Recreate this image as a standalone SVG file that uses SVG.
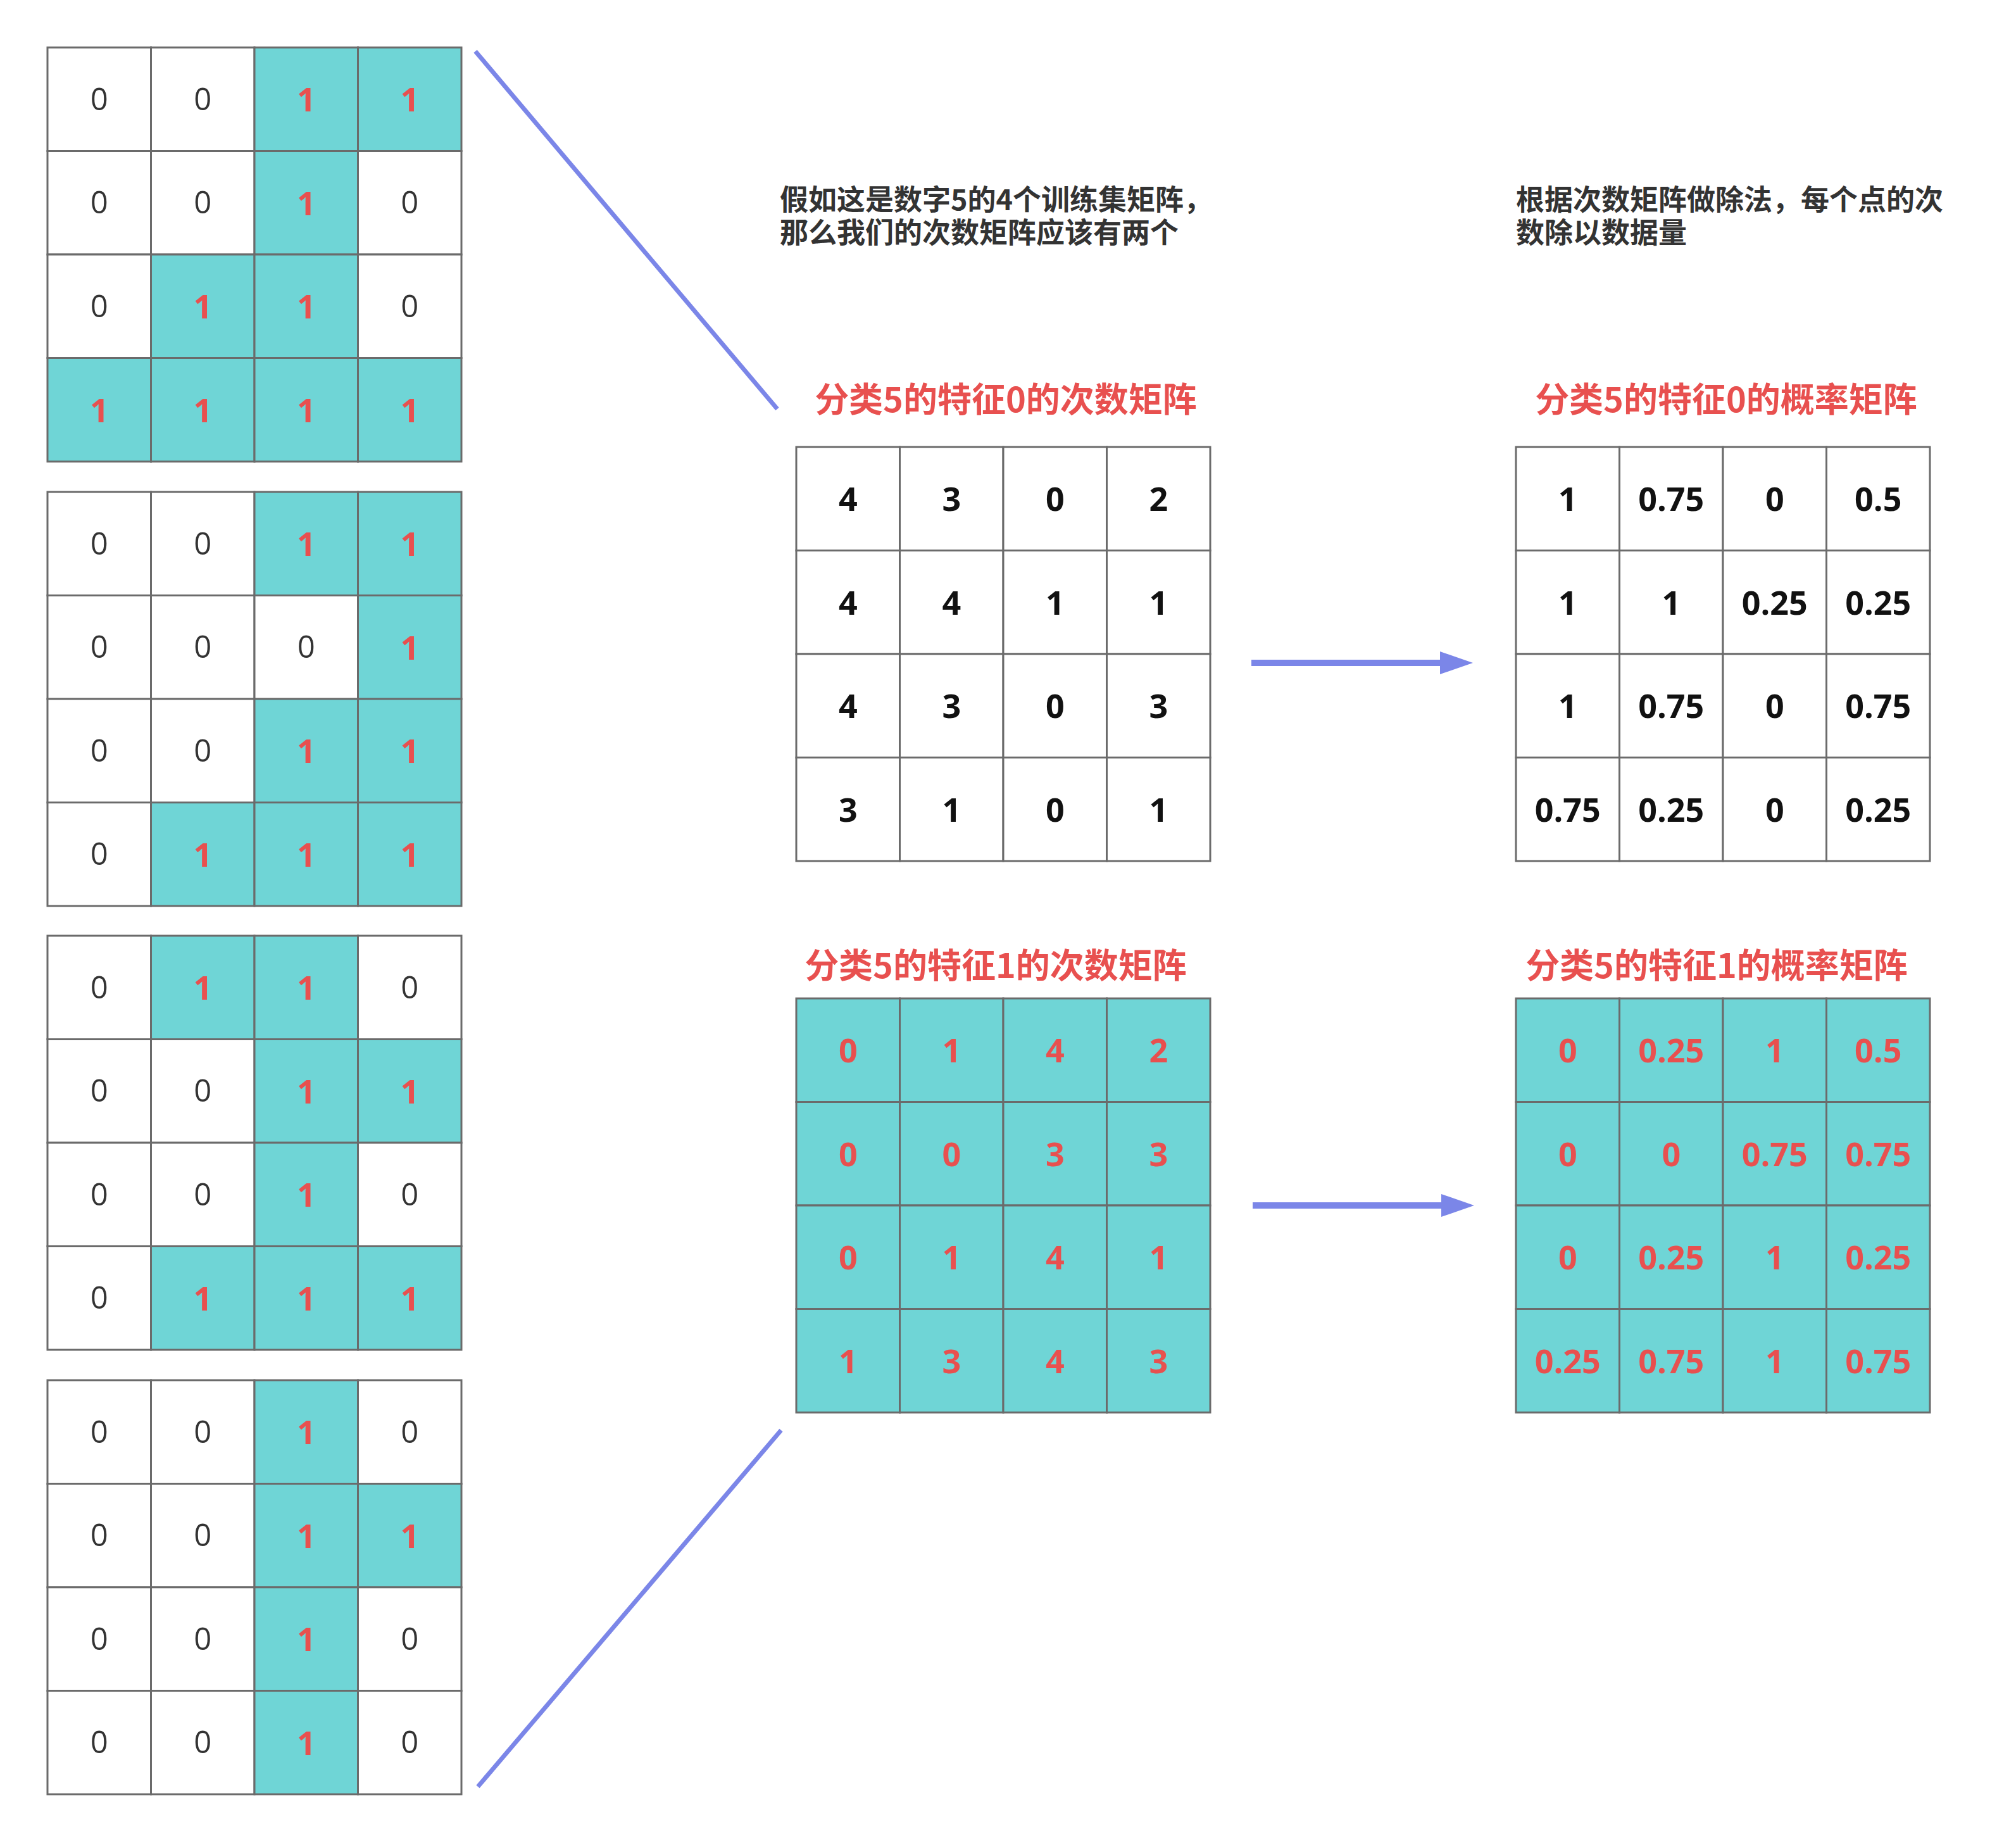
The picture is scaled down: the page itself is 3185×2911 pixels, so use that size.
<svg xmlns="http://www.w3.org/2000/svg" width="3185" height="2911" viewBox="0 0 3185 2911">
<style>
.w{fill:#ffffff;stroke:#6b6b6b;stroke-width:3}
.t{fill:#6fd5d6;stroke:#6b6b6b;stroke-width:3}
.n{font-family:"Open Sans","Noto Sans",sans-serif;text-anchor:middle}
.z{fill:#333333;font-weight:400;font-size:49px}
.r{fill:#e8504f;font-weight:700;font-size:52px}
.k{fill:#111111;font-weight:700;font-size:52px}
.title{font-family:"Noto Sans CJK SC","Noto Sans",sans-serif;font-size:54px;font-weight:700;fill:#e8504f;text-anchor:middle}
.desc{font-family:"Noto Sans CJK SC","Noto Sans",sans-serif;font-size:45px;font-weight:700;fill:#333333}
.link{stroke:#7b86e8;stroke-width:7;fill:none}
.arr{stroke:#7b86e8;stroke-width:10;fill:none}
</style>
<defs>
<marker id="head" markerUnits="userSpaceOnUse" markerWidth="52" markerHeight="36" refX="4" refY="18" orient="auto">
<path d="M0,0 L52,18 L0,36 z" fill="#7b86e8"/>
</marker>
</defs>
<rect width="3185" height="2911" fill="#ffffff"/>

<g id="connectors">
<line class="link" x1="751" y1="81" x2="1228" y2="646"/>
<line class="link" x1="1234" y1="2259" x2="755" y2="2822"/>
<line class="arr" x1="1977" y1="1047" x2="2279" y2="1047" marker-end="url(#head)"/>
<line class="arr" x1="1979" y1="1904" x2="2281" y2="1904" marker-end="url(#head)"/>
</g>

<g id="desc1">
<text class="desc" x="1232" y="332">假如这是数字5的4个训练集矩阵，<tspan x="1232" y="384">那么我们的次数矩阵应该有两个</tspan></text>
</g>
<g id="desc2">
<text class="desc" x="2395" y="332">根据次数矩阵做除法，每个点的次<tspan x="2395" y="384">数除以数据量</tspan></text>
</g>

<g id="title-count0"><text class="title" x="1589" y="651">分类5的特征0的次数矩阵</text></g>
<g id="title-count1"><text class="title" x="1573" y="1545">分类5的特征1的次数矩阵</text></g>
<g id="title-prob0"><text class="title" x="2727" y="651">分类5的特征0的概率矩阵</text></g>
<g id="title-prob1"><text class="title" x="2712" y="1545">分类5的特征1的概率矩阵</text></g>

<!-- training matrix 1 -->
<g id="train1" transform="translate(75,75)">
<rect class="w" x="0" y="0" width="163.5" height="163.5"/><rect class="w" x="163.5" y="0" width="163.5" height="163.5"/><rect class="t" x="327" y="0" width="163.5" height="163.5"/><rect class="t" x="490.5" y="0" width="163.5" height="163.5"/>
<rect class="w" x="0" y="163.5" width="163.5" height="163.5"/><rect class="w" x="163.5" y="163.5" width="163.5" height="163.5"/><rect class="t" x="327" y="163.5" width="163.5" height="163.5"/><rect class="w" x="490.5" y="163.5" width="163.5" height="163.5"/>
<rect class="w" x="0" y="327" width="163.5" height="163.5"/><rect class="t" x="163.5" y="327" width="163.5" height="163.5"/><rect class="t" x="327" y="327" width="163.5" height="163.5"/><rect class="w" x="490.5" y="327" width="163.5" height="163.5"/>
<rect class="t" x="0" y="490.5" width="163.5" height="163.5"/><rect class="t" x="163.5" y="490.5" width="163.5" height="163.5"/><rect class="t" x="327" y="490.5" width="163.5" height="163.5"/><rect class="t" x="490.5" y="490.5" width="163.5" height="163.5"/>
<text class="n z" x="81.75" y="98.75">0</text><text class="n z" x="245.25" y="98.75">0</text><text class="n r" x="408.75" y="101.25">1</text><text class="n r" x="572.25" y="101.25">1</text>
<text class="n z" x="81.75" y="262.25">0</text><text class="n z" x="245.25" y="262.25">0</text><text class="n r" x="408.75" y="264.75">1</text><text class="n z" x="572.25" y="262.25">0</text>
<text class="n z" x="81.75" y="425.75">0</text><text class="n r" x="245.25" y="428.25">1</text><text class="n r" x="408.75" y="428.25">1</text><text class="n z" x="572.25" y="425.75">0</text>
<text class="n r" x="81.75" y="591.75">1</text><text class="n r" x="245.25" y="591.75">1</text><text class="n r" x="408.75" y="591.75">1</text><text class="n r" x="572.25" y="591.75">1</text>
</g>

<!-- training matrix 2 -->
<g id="train2" transform="translate(75,777)">
<rect class="w" x="0" y="0" width="163.5" height="163.5"/><rect class="w" x="163.5" y="0" width="163.5" height="163.5"/><rect class="t" x="327" y="0" width="163.5" height="163.5"/><rect class="t" x="490.5" y="0" width="163.5" height="163.5"/>
<rect class="w" x="0" y="163.5" width="163.5" height="163.5"/><rect class="w" x="163.5" y="163.5" width="163.5" height="163.5"/><rect class="w" x="327" y="163.5" width="163.5" height="163.5"/><rect class="t" x="490.5" y="163.5" width="163.5" height="163.5"/>
<rect class="w" x="0" y="327" width="163.5" height="163.5"/><rect class="w" x="163.5" y="327" width="163.5" height="163.5"/><rect class="t" x="327" y="327" width="163.5" height="163.5"/><rect class="t" x="490.5" y="327" width="163.5" height="163.5"/>
<rect class="w" x="0" y="490.5" width="163.5" height="163.5"/><rect class="t" x="163.5" y="490.5" width="163.5" height="163.5"/><rect class="t" x="327" y="490.5" width="163.5" height="163.5"/><rect class="t" x="490.5" y="490.5" width="163.5" height="163.5"/>
<text class="n z" x="81.75" y="98.75">0</text><text class="n z" x="245.25" y="98.75">0</text><text class="n r" x="408.75" y="101.25">1</text><text class="n r" x="572.25" y="101.25">1</text>
<text class="n z" x="81.75" y="262.25">0</text><text class="n z" x="245.25" y="262.25">0</text><text class="n z" x="408.75" y="262.25">0</text><text class="n r" x="572.25" y="264.75">1</text>
<text class="n z" x="81.75" y="425.75">0</text><text class="n z" x="245.25" y="425.75">0</text><text class="n r" x="408.75" y="428.25">1</text><text class="n r" x="572.25" y="428.25">1</text>
<text class="n z" x="81.75" y="589.25">0</text><text class="n r" x="245.25" y="591.75">1</text><text class="n r" x="408.75" y="591.75">1</text><text class="n r" x="572.25" y="591.75">1</text>
</g>

<!-- training matrix 3 -->
<g id="train3" transform="translate(75,1478)">
<rect class="w" x="0" y="0" width="163.5" height="163.5"/><rect class="t" x="163.5" y="0" width="163.5" height="163.5"/><rect class="t" x="327" y="0" width="163.5" height="163.5"/><rect class="w" x="490.5" y="0" width="163.5" height="163.5"/>
<rect class="w" x="0" y="163.5" width="163.5" height="163.5"/><rect class="w" x="163.5" y="163.5" width="163.5" height="163.5"/><rect class="t" x="327" y="163.5" width="163.5" height="163.5"/><rect class="t" x="490.5" y="163.5" width="163.5" height="163.5"/>
<rect class="w" x="0" y="327" width="163.5" height="163.5"/><rect class="w" x="163.5" y="327" width="163.5" height="163.5"/><rect class="t" x="327" y="327" width="163.5" height="163.5"/><rect class="w" x="490.5" y="327" width="163.5" height="163.5"/>
<rect class="w" x="0" y="490.5" width="163.5" height="163.5"/><rect class="t" x="163.5" y="490.5" width="163.5" height="163.5"/><rect class="t" x="327" y="490.5" width="163.5" height="163.5"/><rect class="t" x="490.5" y="490.5" width="163.5" height="163.5"/>
<text class="n z" x="81.75" y="98.75">0</text><text class="n r" x="245.25" y="101.25">1</text><text class="n r" x="408.75" y="101.25">1</text><text class="n z" x="572.25" y="98.75">0</text>
<text class="n z" x="81.75" y="262.25">0</text><text class="n z" x="245.25" y="262.25">0</text><text class="n r" x="408.75" y="264.75">1</text><text class="n r" x="572.25" y="264.75">1</text>
<text class="n z" x="81.75" y="425.75">0</text><text class="n z" x="245.25" y="425.75">0</text><text class="n r" x="408.75" y="428.25">1</text><text class="n z" x="572.25" y="425.75">0</text>
<text class="n z" x="81.75" y="589.25">0</text><text class="n r" x="245.25" y="591.75">1</text><text class="n r" x="408.75" y="591.75">1</text><text class="n r" x="572.25" y="591.75">1</text>
</g>

<!-- training matrix 4 -->
<g id="train4" transform="translate(75,2180)">
<rect class="w" x="0" y="0" width="163.5" height="163.5"/><rect class="w" x="163.5" y="0" width="163.5" height="163.5"/><rect class="t" x="327" y="0" width="163.5" height="163.5"/><rect class="w" x="490.5" y="0" width="163.5" height="163.5"/>
<rect class="w" x="0" y="163.5" width="163.5" height="163.5"/><rect class="w" x="163.5" y="163.5" width="163.5" height="163.5"/><rect class="t" x="327" y="163.5" width="163.5" height="163.5"/><rect class="t" x="490.5" y="163.5" width="163.5" height="163.5"/>
<rect class="w" x="0" y="327" width="163.5" height="163.5"/><rect class="w" x="163.5" y="327" width="163.5" height="163.5"/><rect class="t" x="327" y="327" width="163.5" height="163.5"/><rect class="w" x="490.5" y="327" width="163.5" height="163.5"/>
<rect class="w" x="0" y="490.5" width="163.5" height="163.5"/><rect class="w" x="163.5" y="490.5" width="163.5" height="163.5"/><rect class="t" x="327" y="490.5" width="163.5" height="163.5"/><rect class="w" x="490.5" y="490.5" width="163.5" height="163.5"/>
<text class="n z" x="81.75" y="98.75">0</text><text class="n z" x="245.25" y="98.75">0</text><text class="n r" x="408.75" y="101.25">1</text><text class="n z" x="572.25" y="98.75">0</text>
<text class="n z" x="81.75" y="262.25">0</text><text class="n z" x="245.25" y="262.25">0</text><text class="n r" x="408.75" y="264.75">1</text><text class="n r" x="572.25" y="264.75">1</text>
<text class="n z" x="81.75" y="425.75">0</text><text class="n z" x="245.25" y="425.75">0</text><text class="n r" x="408.75" y="428.25">1</text><text class="n z" x="572.25" y="425.75">0</text>
<text class="n z" x="81.75" y="589.25">0</text><text class="n z" x="245.25" y="589.25">0</text><text class="n r" x="408.75" y="591.75">1</text><text class="n z" x="572.25" y="589.25">0</text>
</g>

<!-- count matrix feature 0 -->
<g id="count0" transform="translate(1258,706)">
<rect class="w" x="0" y="0" width="163.5" height="163.5"/><rect class="w" x="163.5" y="0" width="163.5" height="163.5"/><rect class="w" x="327" y="0" width="163.5" height="163.5"/><rect class="w" x="490.5" y="0" width="163.5" height="163.5"/>
<rect class="w" x="0" y="163.5" width="163.5" height="163.5"/><rect class="w" x="163.5" y="163.5" width="163.5" height="163.5"/><rect class="w" x="327" y="163.5" width="163.5" height="163.5"/><rect class="w" x="490.5" y="163.5" width="163.5" height="163.5"/>
<rect class="w" x="0" y="327" width="163.5" height="163.5"/><rect class="w" x="163.5" y="327" width="163.5" height="163.5"/><rect class="w" x="327" y="327" width="163.5" height="163.5"/><rect class="w" x="490.5" y="327" width="163.5" height="163.5"/>
<rect class="w" x="0" y="490.5" width="163.5" height="163.5"/><rect class="w" x="163.5" y="490.5" width="163.5" height="163.5"/><rect class="w" x="327" y="490.5" width="163.5" height="163.5"/><rect class="w" x="490.5" y="490.5" width="163.5" height="163.5"/>
<text class="n k" x="81.75" y="101.25">4</text><text class="n k" x="245.25" y="101.25">3</text><text class="n k" x="408.75" y="101.25">0</text><text class="n k" x="572.25" y="101.25">2</text>
<text class="n k" x="81.75" y="264.75">4</text><text class="n k" x="245.25" y="264.75">4</text><text class="n k" x="408.75" y="264.75">1</text><text class="n k" x="572.25" y="264.75">1</text>
<text class="n k" x="81.75" y="428.25">4</text><text class="n k" x="245.25" y="428.25">3</text><text class="n k" x="408.75" y="428.25">0</text><text class="n k" x="572.25" y="428.25">3</text>
<text class="n k" x="81.75" y="591.75">3</text><text class="n k" x="245.25" y="591.75">1</text><text class="n k" x="408.75" y="591.75">0</text><text class="n k" x="572.25" y="591.75">1</text>
</g>

<!-- count matrix feature 1 -->
<g id="count1" transform="translate(1258,1577)">
<rect class="t" x="0" y="0" width="163.5" height="163.5"/><rect class="t" x="163.5" y="0" width="163.5" height="163.5"/><rect class="t" x="327" y="0" width="163.5" height="163.5"/><rect class="t" x="490.5" y="0" width="163.5" height="163.5"/>
<rect class="t" x="0" y="163.5" width="163.5" height="163.5"/><rect class="t" x="163.5" y="163.5" width="163.5" height="163.5"/><rect class="t" x="327" y="163.5" width="163.5" height="163.5"/><rect class="t" x="490.5" y="163.5" width="163.5" height="163.5"/>
<rect class="t" x="0" y="327" width="163.5" height="163.5"/><rect class="t" x="163.5" y="327" width="163.5" height="163.5"/><rect class="t" x="327" y="327" width="163.5" height="163.5"/><rect class="t" x="490.5" y="327" width="163.5" height="163.5"/>
<rect class="t" x="0" y="490.5" width="163.5" height="163.5"/><rect class="t" x="163.5" y="490.5" width="163.5" height="163.5"/><rect class="t" x="327" y="490.5" width="163.5" height="163.5"/><rect class="t" x="490.5" y="490.5" width="163.5" height="163.5"/>
<text class="n r" x="81.75" y="101.25">0</text><text class="n r" x="245.25" y="101.25">1</text><text class="n r" x="408.75" y="101.25">4</text><text class="n r" x="572.25" y="101.25">2</text>
<text class="n r" x="81.75" y="264.75">0</text><text class="n r" x="245.25" y="264.75">0</text><text class="n r" x="408.75" y="264.75">3</text><text class="n r" x="572.25" y="264.75">3</text>
<text class="n r" x="81.75" y="428.25">0</text><text class="n r" x="245.25" y="428.25">1</text><text class="n r" x="408.75" y="428.25">4</text><text class="n r" x="572.25" y="428.25">1</text>
<text class="n r" x="81.75" y="591.75">1</text><text class="n r" x="245.25" y="591.75">3</text><text class="n r" x="408.75" y="591.75">4</text><text class="n r" x="572.25" y="591.75">3</text>
</g>

<!-- probability matrix feature 0 -->
<g id="prob0" transform="translate(2395,706)">
<rect class="w" x="0" y="0" width="163.5" height="163.5"/><rect class="w" x="163.5" y="0" width="163.5" height="163.5"/><rect class="w" x="327" y="0" width="163.5" height="163.5"/><rect class="w" x="490.5" y="0" width="163.5" height="163.5"/>
<rect class="w" x="0" y="163.5" width="163.5" height="163.5"/><rect class="w" x="163.5" y="163.5" width="163.5" height="163.5"/><rect class="w" x="327" y="163.5" width="163.5" height="163.5"/><rect class="w" x="490.5" y="163.5" width="163.5" height="163.5"/>
<rect class="w" x="0" y="327" width="163.5" height="163.5"/><rect class="w" x="163.5" y="327" width="163.5" height="163.5"/><rect class="w" x="327" y="327" width="163.5" height="163.5"/><rect class="w" x="490.5" y="327" width="163.5" height="163.5"/>
<rect class="w" x="0" y="490.5" width="163.5" height="163.5"/><rect class="w" x="163.5" y="490.5" width="163.5" height="163.5"/><rect class="w" x="327" y="490.5" width="163.5" height="163.5"/><rect class="w" x="490.5" y="490.5" width="163.5" height="163.5"/>
<text class="n k" x="81.75" y="101.25">1</text><text class="n k" x="245.25" y="101.25">0.75</text><text class="n k" x="408.75" y="101.25">0</text><text class="n k" x="572.25" y="101.25">0.5</text>
<text class="n k" x="81.75" y="264.75">1</text><text class="n k" x="245.25" y="264.75">1</text><text class="n k" x="408.75" y="264.75">0.25</text><text class="n k" x="572.25" y="264.75">0.25</text>
<text class="n k" x="81.75" y="428.25">1</text><text class="n k" x="245.25" y="428.25">0.75</text><text class="n k" x="408.75" y="428.25">0</text><text class="n k" x="572.25" y="428.25">0.75</text>
<text class="n k" x="81.75" y="591.75">0.75</text><text class="n k" x="245.25" y="591.75">0.25</text><text class="n k" x="408.75" y="591.75">0</text><text class="n k" x="572.25" y="591.75">0.25</text>
</g>

<!-- probability matrix feature 1 -->
<g id="prob1" transform="translate(2395,1577)">
<rect class="t" x="0" y="0" width="163.5" height="163.5"/><rect class="t" x="163.5" y="0" width="163.5" height="163.5"/><rect class="t" x="327" y="0" width="163.5" height="163.5"/><rect class="t" x="490.5" y="0" width="163.5" height="163.5"/>
<rect class="t" x="0" y="163.5" width="163.5" height="163.5"/><rect class="t" x="163.5" y="163.5" width="163.5" height="163.5"/><rect class="t" x="327" y="163.5" width="163.5" height="163.5"/><rect class="t" x="490.5" y="163.5" width="163.5" height="163.5"/>
<rect class="t" x="0" y="327" width="163.5" height="163.5"/><rect class="t" x="163.5" y="327" width="163.5" height="163.5"/><rect class="t" x="327" y="327" width="163.5" height="163.5"/><rect class="t" x="490.5" y="327" width="163.5" height="163.5"/>
<rect class="t" x="0" y="490.5" width="163.5" height="163.5"/><rect class="t" x="163.5" y="490.5" width="163.5" height="163.5"/><rect class="t" x="327" y="490.5" width="163.5" height="163.5"/><rect class="t" x="490.5" y="490.5" width="163.5" height="163.5"/>
<text class="n r" x="81.75" y="101.25">0</text><text class="n r" x="245.25" y="101.25">0.25</text><text class="n r" x="408.75" y="101.25">1</text><text class="n r" x="572.25" y="101.25">0.5</text>
<text class="n r" x="81.75" y="264.75">0</text><text class="n r" x="245.25" y="264.75">0</text><text class="n r" x="408.75" y="264.75">0.75</text><text class="n r" x="572.25" y="264.75">0.75</text>
<text class="n r" x="81.75" y="428.25">0</text><text class="n r" x="245.25" y="428.25">0.25</text><text class="n r" x="408.75" y="428.25">1</text><text class="n r" x="572.25" y="428.25">0.25</text>
<text class="n r" x="81.75" y="591.75">0.25</text><text class="n r" x="245.25" y="591.75">0.75</text><text class="n r" x="408.75" y="591.75">1</text><text class="n r" x="572.25" y="591.75">0.75</text>
</g>
</svg>
